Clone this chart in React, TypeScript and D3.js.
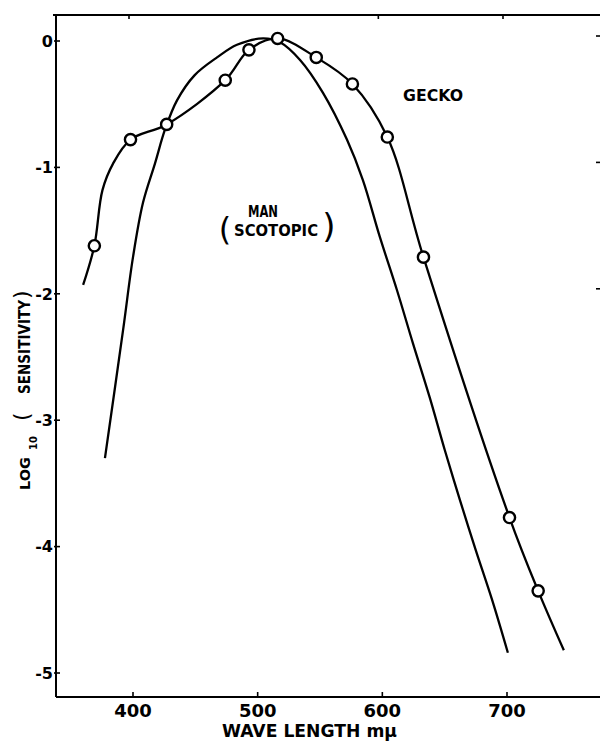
import * as d3 from "d3"

// gecko measurements (circles)
const geckoWave = [369, 398, 427, 474, 493, 516, 547, 576, 604, 633, 702, 725]
const geckoLog = [-1.62, -0.78, -0.66, -0.31, -0.07, 0.02, -0.13, -0.34, -0.76, -1.71, -3.77, -4.35]

// hand-drawn gecko curve
const geckoCurveWave = [360, 369, 375.5, 384, 398, 427, 474, 493, 516, 547, 576, 604, 633, 702, 725, 745.6]
const geckoCurveLog = [-1.93, -1.62, -1.18, -0.97, -0.78, -0.66, -0.31, -0.07, 0.02, -0.13, -0.34, -0.76, -1.71, -3.77, -4.35, -4.82]

// man (scotopic) curve
const manWave = [
  377.5, 392, 400, 408, 417.6, 425.7, 435.3, 449.5, 467.4, 483.4, 504.3, 517.9, 534, 552.4, 571.6, 584.4, 598,
  611.7, 624.5, 638, 650.2, 662.2, 675, 688, 700.7,
]
const manLog = [
  -3.3, -2.29, -1.71, -1.28, -0.97, -0.7, -0.47, -0.27, -0.13, -0.03, 0.02, -0.01, -0.15, -0.41, -0.78, -1.1, -1.55,
  -1.97, -2.39, -2.82, -3.24, -3.63, -4.03, -4.42, -4.84,
]

const xTicks = [400, 500, 600, 700]
const topTicks = [400, 600, 700]
const yTicks = [0, -1, -2, -3, -4, -5]
const rightTicks = [0, -1, -2]

const W = 600
const H = 742
const FONT = "'DejaVu Sans', sans-serif"

export default function App() {
  const x = d3.scaleLinear().domain([400, 700]).range([133, 507])
  const y = d3.scaleLinear().domain([0, -5]).range([41, 673])

  const left = 56
  const top = 15
  const bottom = 697
  const right = 600

  const line = d3
    .line<[number, number]>()
    .x((d) => x(d[0]))
    .y((d) => y(d[1]))
    .curve(d3.curveCatmullRom.alpha(0.5))

  const geckoPath = line(geckoCurveWave.map((w, i) => [w, geckoCurveLog[i]]))
  const manPath = line(manWave.map((w, i) => [w, manLog[i]]))

  return (
    <svg
      width={W}
      height={H}
      style={{ position: "absolute", left: 0, top: 0, background: "#fff" }}
      fontFamily={FONT}
      fontWeight="bold"
    >
      {/* frame */}
      <line x1={53} y1={top} x2={right} y2={top} stroke="#000" strokeWidth={2.2} />
      <line x1={left} y1={top} x2={left} y2={bottom} stroke="#000" strokeWidth={2} />
      <line x1={left} y1={bottom} x2={right} y2={bottom} stroke="#000" strokeWidth={2.2} />

      {/* y ticks */}
      {yTicks.map((t) => (
        <g key={t}>
          <line x1={left - 2} y1={y(t)} x2={left + 4} y2={y(t)} stroke="#000" strokeWidth={1.6} />
          <text x={53} y={y(t)} dy="0.36em" textAnchor="end" fontSize={16}>
            {t === 0 ? "0" : `-${Math.abs(t)}`}
          </text>
        </g>
      ))}
      {rightTicks.map((t) => (
        <line key={t} x1={right - 4} y1={y(t) - 5} x2={right} y2={y(t) - 5} stroke="#000" strokeWidth={1.6} />
      ))}

      {/* x ticks */}
      {xTicks.map((t) => (
        <g key={t}>
          <line x1={x(t)} y1={bottom} x2={x(t)} y2={bottom - 5} stroke="#000" strokeWidth={1.6} />
          <text x={x(t)} y={717} textAnchor="middle" fontSize={18}>
            {t}
          </text>
        </g>
      ))}
      {topTicks.map((t) => (
        <line key={t} x1={x(t) - 4} y1={top} x2={x(t) - 4} y2={top + 4} stroke="#000" strokeWidth={1.6} />
      ))}

      {/* axis titles */}
      <text x={222} y={737} fontSize={18} textLength={175} lengthAdjust="spacingAndGlyphs">
        WAVE LENGTH mμ
      </text>
      <g fontSize={14}>
        <text transform="translate(30,490) rotate(-90)" textLength={33} lengthAdjust="spacingAndGlyphs">
          LOG
        </text>
        <text transform="translate(37,450) rotate(-90)" fontSize={10}>
          10
        </text>
        <text transform="translate(29,421) rotate(-90)" fontSize={22} fontWeight="normal">
          (
        </text>
        <text transform="translate(30,394) rotate(-90)" fontSize={15} textLength={94} lengthAdjust="spacingAndGlyphs">
          SENSITIVITY
        </text>
        <text transform="translate(29,299) rotate(-90)" fontSize={22} fontWeight="normal">
          )
        </text>
      </g>

      {/* curves */}
      <path d={manPath ?? ""} fill="none" stroke="#000" strokeWidth={2.3} />
      <path d={geckoPath ?? ""} fill="none" stroke="#000" strokeWidth={2.3} />

      {geckoWave.map((w, i) => (
        <circle key={w} cx={x(w)} cy={y(geckoLog[i])} r={5.6} fill="#fff" stroke="#000" strokeWidth={2.4} />
      ))}

      {/* labels */}
      <text x={403} y={101} fontSize={16} textLength={60} lengthAdjust="spacingAndGlyphs">
        GECKO
      </text>
      <text x={248} y={217} fontSize={16} textLength={30} lengthAdjust="spacingAndGlyphs">
        MAN
      </text>
      <text x={234} y={236} fontSize={16} textLength={84} lengthAdjust="spacingAndGlyphs">
        SCOTOPIC
      </text>
      <text x={225} y={240} fontSize={32} textAnchor="middle" fontWeight="normal">
        (
      </text>
      <text x={329} y={238} fontSize={34} textAnchor="middle" fontWeight="normal">
        )
      </text>
    </svg>
  )
}
